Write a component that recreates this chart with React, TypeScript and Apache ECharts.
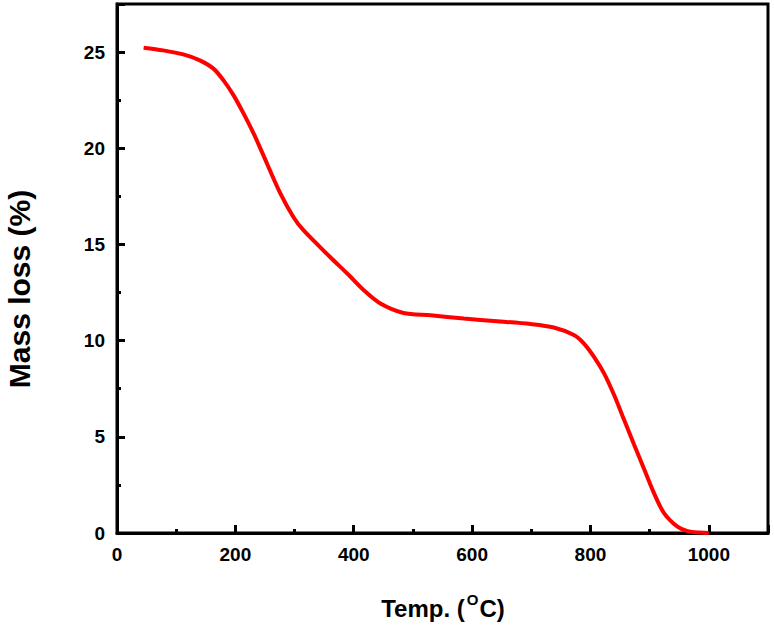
import React, { useEffect, useRef } from "react";
import * as echarts from "echarts";

const temperatures = [45, 78, 112, 140, 163, 180, 197, 214, 231, 245, 276, 298, 315, 360, 389, 417, 445, 484, 530, 586, 642, 699, 738, 772, 789, 806, 823, 840, 857, 874, 891, 907, 924, 947, 964, 985, 1000];
const massLoss = [25.23, 25.09, 24.88, 24.57, 24.14, 23.53, 22.75, 21.8, 20.76, 19.8, 17.65, 16.43, 15.74, 14.35, 13.49, 12.62, 11.93, 11.44, 11.32, 11.15, 11.01, 10.86, 10.68, 10.29, 9.85, 9.16, 8.3, 7.17, 5.87, 4.57, 3.3, 2.1, 1.05, 0.33, 0.1, 0.02, 0.0];

const xTickLabels = ["0", "200", "400", "600", "800", "1000"];
const yTickLabels = ["0", "5", "10", "15", "20", "25"];

const FONT = "'Liberation Sans', Arial, Helvetica, sans-serif";

export default function App() {
  const ref = useRef<HTMLDivElement>(null);

  useEffect(() => {
    if (!ref.current) return;
    const chart = echarts.init(ref.current, null, { renderer: "svg" });
    const data = temperatures.map((t, i) => [t, massLoss[i]]);
    const labelStyle = {
      color: "#000",
      fontFamily: FONT,
      fontWeight: "bold" as const,
      fontSize: 19,
    };
    chart.setOption({
      animation: false,
      backgroundColor: "#fff",
      grid: {
        left: 117,
        right: 6,
        top: 4,
        bottom: 94,
        show: true,
        borderColor: "#000",
        borderWidth: 3,
        backgroundColor: "transparent",
      },
      xAxis: [
        {
          type: "value",
          min: 0,
          max: 1100,
          interval: 200,
          position: "bottom",
          axisLine: { show: true, lineStyle: { color: "#000", width: 3 } },
          axisTick: { show: true, inside: true, length: 8, lineStyle: { color: "#000", width: 3 } },
          splitLine: { show: false },
          axisLabel: {
            ...labelStyle,
            margin: 12,
            formatter: (v: number) => (xTickLabels.includes(String(v)) ? String(v) : ""),
          },
        },
        {
          type: "value",
          min: 0,
          max: 1100,
          interval: 100,
          position: "bottom",
          axisLine: { show: false },
          axisTick: { show: true, inside: true, length: 4, lineStyle: { color: "#000", width: 3 } },
          splitLine: { show: false },
          axisLabel: { show: false },
        },
      ],
      yAxis: [
        {
          type: "value",
          min: 0,
          max: 27.5,
          interval: 5,
          position: "left",
          axisLine: { show: true, lineStyle: { color: "#000", width: 3 } },
          axisTick: { show: true, inside: true, length: 8, lineStyle: { color: "#000", width: 3 } },
          splitLine: { show: false },
          axisLabel: {
            ...labelStyle,
            margin: 12,
            formatter: (v: number) => (yTickLabels.includes(String(v)) ? String(v) : ""),
          },
        },
        {
          type: "value",
          min: 0,
          max: 27.5,
          interval: 2.5,
          position: "left",
          axisLine: { show: false },
          axisTick: { show: true, inside: true, length: 4, lineStyle: { color: "#000", width: 3 } },
          splitLine: { show: false },
          axisLabel: { show: false },
        },
      ],
      series: [
        {
          type: "line",
          xAxisIndex: 0,
          yAxisIndex: 0,
          data,
          smooth: 0.3,
          showSymbol: false,
          symbol: "none",
          lineStyle: { color: "#ff0000", width: 4 },
        },
      ],
      graphic: [
        {
          type: "text",
          x: 19,
          y: 289,
          rotation: Math.PI / 2,
          style: {
            text: "Mass loss (%)",
            fill: "#000",
            font: `bold 30px ${FONT}`,
            align: "center",
            verticalAlign: "middle",
          },
        },
        {
          type: "text",
          x: 443,
          y: 620,
          style: {
            text: "{a|Temp. (}{s|O}{a|C)}",
            align: "center",
            verticalAlign: "bottom",
            rich: {
              a: {
                fontFamily: FONT,
                fontWeight: "bold",
                fontSize: 24,
                fill: "#000",
                verticalAlign: "bottom",
                lineHeight: 27,
              },
              s: {
                fontFamily: FONT,
                fontWeight: "bold",
                fontSize: 15,
                fill: "#000",
                verticalAlign: "bottom",
                lineHeight: 17,
                padding: [0, 1, 13, 2],
              },
            },
          },
        },
      ],
    });
    return () => chart.dispose();
  }, []);

  return (
    <div
      ref={ref}
      style={{ position: "absolute", left: 0, top: 0, width: 774, height: 627 }}
    />
  );
}
